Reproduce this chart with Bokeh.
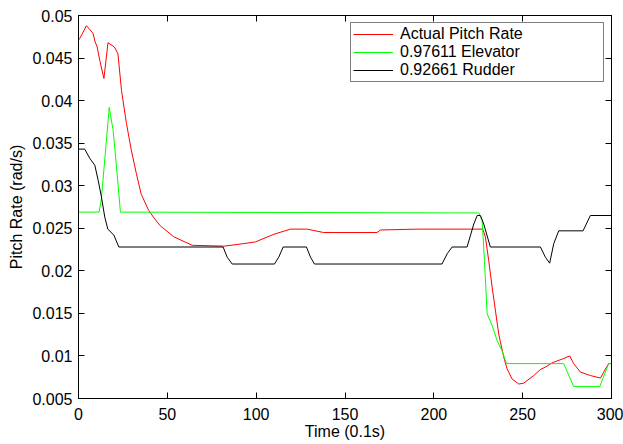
from bokeh.plotting import figure
from bokeh.models import Range1d, FixedTicker, LinearAxis, Legend, LegendItem, CustomJSTickFormatter
from bokeh.embed import file_html
from bokeh.resources import INLINE

# ---- data ----
pitch_t = [0.0, 0.7, 4.5, 8.2, 9.2, 10.5, 12.0, 14.3, 16.6, 20.2, 22.2, 24.2, 27.0, 29.8,
           32.6, 35.3, 39.5, 42.9, 46.0, 53.6, 64.0, 82.0, 93.0, 99.6, 110.0, 119.3,
           128.7, 138.0, 168.0, 170.0, 190.6, 227.5, 229.0, 230.9, 232.8, 234.7, 236.5,
           239.3, 241.2, 244.0, 247.8, 250.6, 256.2, 260.0, 263.7, 266.6, 273.1, 276.5,
           278.7, 282.5, 288.1, 293.8, 295.6, 298.4, 300.0]
pitch_rate = [0.0471, 0.0473, 0.0488, 0.0479, 0.0470, 0.0463, 0.0447, 0.0426, 0.0468,
              0.0463, 0.0455, 0.0412, 0.0373, 0.0341, 0.0314, 0.0290, 0.0271, 0.0261,
              0.0253, 0.0240, 0.0230, 0.0229, 0.0232, 0.0234, 0.0243, 0.0249, 0.0249,
              0.0245, 0.0245, 0.0248, 0.0249, 0.0249, 0.0240, 0.0212, 0.0181, 0.0153,
              0.0126, 0.0099, 0.0085, 0.0073, 0.0067, 0.0068, 0.0077, 0.0084, 0.0088,
              0.0092, 0.0097, 0.0100, 0.0091, 0.0081, 0.0077, 0.0074, 0.0081, 0.0091,
              0.0091]

elev_t = [0.0, 11.6, 12.9, 17.3, 19.5, 21.4, 23.6, 225.3, 227.2, 228.5, 230.0, 232.8,
          235.6, 238.4, 240.9, 273.1, 278.7, 293.4, 298.4, 300.0]
elev_rate = [0.0269, 0.0269, 0.0285, 0.0392, 0.0365, 0.0322, 0.0269, 0.0268, 0.0259,
             0.0212, 0.01495, 0.0136, 0.0118, 0.0106, 0.0091, 0.0091, 0.0064, 0.0064,
             0.0091, 0.0091]

rud_t = [0.0, 3.5, 6.4, 9.2, 11.1, 12.9, 14.8, 16.5, 19.9, 22.7, 81.4, 83.7, 86.5,
         110.3, 112.7, 115.2, 128.3, 130.6, 132.8, 204.6, 207.5, 210.3, 218.7, 222.5,
         224.4, 226.2, 228.1, 231.8, 260.0, 262.8, 265.2, 267.5, 270.3, 284.0, 288.1,
         300.0]
rud_rate = [0.0343, 0.0343, 0.0332, 0.0324, 0.0306, 0.0287, 0.0263, 0.0249, 0.0242,
            0.0228, 0.0228, 0.0216, 0.0208, 0.0208, 0.0216, 0.0228, 0.0228, 0.0216,
            0.0208, 0.0208, 0.0220, 0.0228, 0.0228, 0.0255, 0.0265, 0.0265, 0.0255,
            0.0228, 0.0228, 0.0216, 0.0209, 0.0232, 0.0247, 0.0247, 0.0265, 0.0265]

series_labels = ["Actual Pitch Rate", "0.97611 Elevator", "0.92661 Rudder"]
series_colors = ["#ff0000", "#00ff00", "#000000"]

x_ticks = [0, 50, 100, 150, 200, 250, 300]
y_ticks = [0.005, 0.01, 0.015, 0.02, 0.025, 0.03, 0.035, 0.04, 0.045, 0.05]
y_tick_labels = ["0.005", "0.01", "0.015", "0.02", "0.025", "0.03", "0.035", "0.04",
                 "0.045", "0.05"]

x_label = "Time (0.1s)"
y_label = "Pitch Rate (rad/s)"

FONT = "Liberation Sans"
FS = "16px"

p = figure(width=623, height=444, output_backend="svg", toolbar_location=None,
           x_range=Range1d(0, 300), y_range=Range1d(0.005, 0.05),
           min_border_left=78, min_border_right=12, min_border_top=15, min_border_bottom=46)
p.background_fill_color = "white"
p.border_fill_color = "white"
p.outline_line_color = "black"
p.outline_line_width = 1
p.xgrid.visible = False
p.ygrid.visible = False

r1 = p.line(pitch_t, pitch_rate, line_color=series_colors[0], line_width=1)
r2 = p.line(elev_t, elev_rate, line_color=series_colors[1], line_width=1)
r3 = p.line(rud_t, rud_rate, line_color=series_colors[2], line_width=1)


def style_axis(ax, show_labels=True):
    ax.axis_line_color = "black"
    ax.major_tick_line_color = "black"
    ax.major_tick_in = 6
    ax.major_tick_out = 0
    ax.minor_tick_line_color = None
    ax.major_label_text_font = FONT
    ax.major_label_text_color = "black"
    if show_labels:
        ax.major_label_text_font_size = FS
    else:
        ax.formatter = CustomJSTickFormatter(code="return ''")
        ax.major_label_text_font_size = "1px"
        ax.major_label_standoff = 0


xa = p.xaxis[0]
xa.ticker = FixedTicker(ticks=x_ticks)
style_axis(xa)
xa.major_label_standoff = 9
xa.axis_label = x_label
xa.axis_label_text_font = FONT
xa.axis_label_text_font_size = FS
xa.axis_label_text_font_style = "normal"
xa.axis_label_text_color = "black"
xa.axis_label_standoff = 0

ya = p.yaxis[0]
ya.ticker = FixedTicker(ticks=y_ticks)
ya.major_label_overrides = dict(zip(y_ticks, y_tick_labels))
style_axis(ya)
ya.major_label_standoff = 6
ya.axis_label = y_label
ya.axis_label_text_font = FONT
ya.axis_label_text_font_size = FS
ya.axis_label_text_font_style = "normal"
ya.axis_label_text_color = "black"
ya.axis_label_standoff = 4

top_ax = LinearAxis(ticker=FixedTicker(ticks=x_ticks))
style_axis(top_ax, show_labels=False)
p.add_layout(top_ax, "above")
right_ax = LinearAxis(ticker=FixedTicker(ticks=y_ticks))
style_axis(right_ax, show_labels=False)
p.add_layout(right_ax, "right")

legend = Legend(items=[LegendItem(label=series_labels[0], renderers=[r1]),
                       LegendItem(label=series_labels[1], renderers=[r2]),
                       LegendItem(label=series_labels[2], renderers=[r3])],
                location="top_right")
legend.margin = 7
legend.padding = 2
legend.spacing = 0
legend.glyph_height = 18
legend.label_height = 18
legend.glyph_width = 40
legend.label_standoff = 7
legend.label_width = 201
legend.label_text_font = FONT
legend.label_text_font_size = FS
legend.label_text_color = "black"
legend.border_line_color = "black"
legend.border_line_width = 1
legend.background_fill_color = "white"
legend.background_fill_alpha = 1
p.add_layout(legend, "center")

open("out.html", "w").write(file_html(p, INLINE))
